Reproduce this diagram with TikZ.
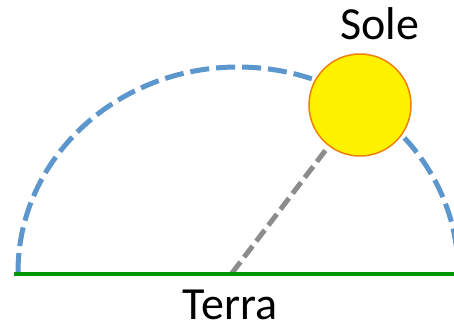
\documentclass[tikz,border=0pt]{standalone}
\usepackage{fontspec}
\setmainfont{Carlito}
\definecolor{arcblue}{RGB}{91,150,205}
\definecolor{raygray}{RGB}{140,140,140}
\definecolor{groundgreen}{RGB}{0,150,0}
\definecolor{sunorange}{RGB}{240,128,0}
\tikzset{
  orbit/.style={draw=arcblue, line width=5pt, dash pattern=on 19pt off 7pt},
  ray/.style={draw=raygray, line width=5pt, dash pattern=on 14pt off 6pt},
  ground/.style={draw=groundgreen, line width=4.5pt},
  sunbody/.style={circle, fill=yellow, draw=sunorange, line width=1.5pt, minimum size=102pt, inner sep=0pt},
  lbl/.style={font=\fontsize{46}{50}\selectfont, inner sep=0pt, anchor=base}
}
\begin{document}
\begin{tikzpicture}[x=1pt,y=-1pt]
\useasboundingbox (0,0) rectangle (454,325);
\coordinate (earth) at (232,273);
\coordinate (gl) at (14,274);
\coordinate (gr) at (456,274);
\coordinate (arcstart) at (18,272);
\coordinate (sunc) at (360,105);
\draw[orbit] (arcstart) arc[start angle=180, end angle=360, x radius=220, y radius=205];
\draw[ray] (earth) -- (sunc);
\node[sunbody] (sun) at (sunc) {};
\draw[ground] (gl) -- (gr);
\node[lbl] (sole) at (380,39) {Sole};
\node[lbl] (terra) at (230,319) {Terra};
\end{tikzpicture}
\end{document}
